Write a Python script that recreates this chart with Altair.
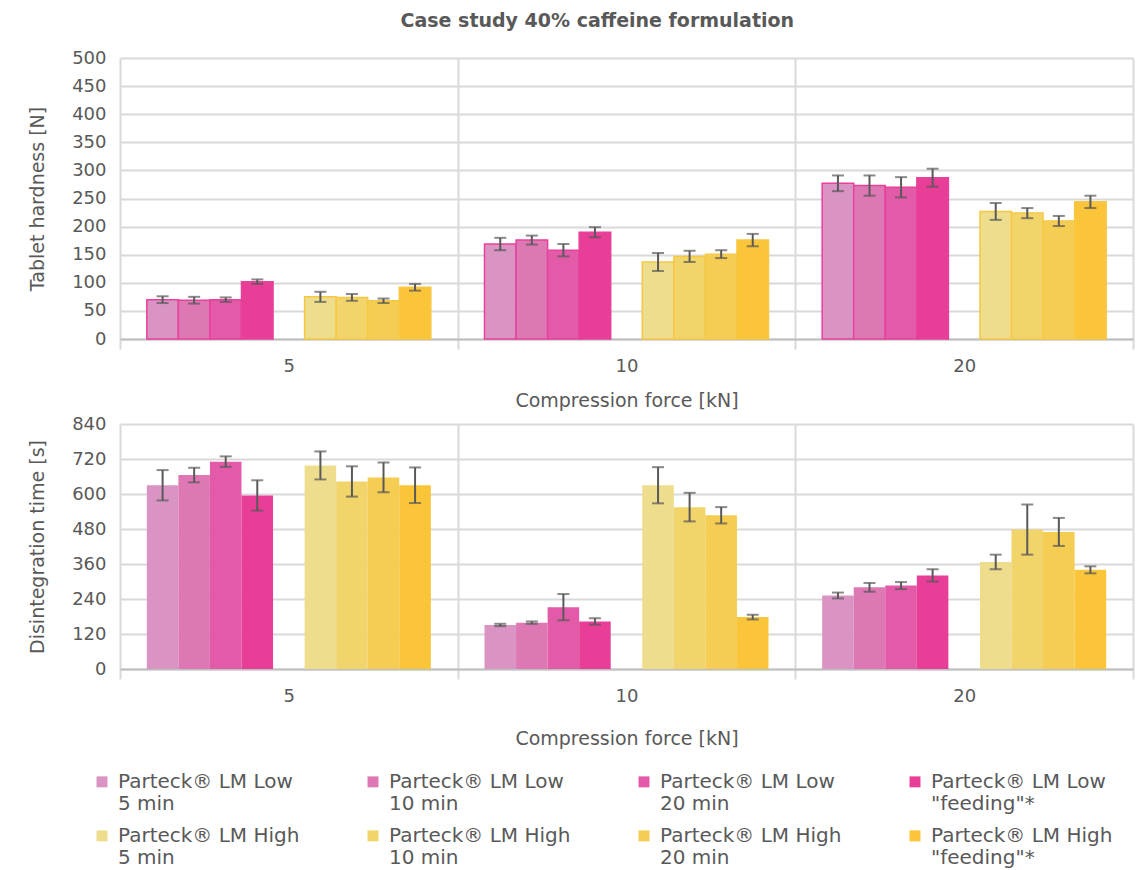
import altair as alt
import pandas as pd

forces = ["5", "10", "20"]
keys = ["L5", "L10", "L20", "LF", "H5", "H10", "H20", "HF"]
groups = ["Low", "Low", "Low", "Low", "High", "High", "High", "High"]
labels = [
    "Parteck® LM Low|5 min",
    "Parteck® LM Low|10 min",
    "Parteck® LM Low|20 min",
    'Parteck® LM Low|"feeding"*',
    "Parteck® LM High|5 min",
    "Parteck® LM High|10 min",
    "Parteck® LM High|20 min",
    'Parteck® LM High|"feeding"*',
]
colors = ["#D994C4", "#DE78B5", "#E25AA8", "#E83E98",
          "#EEDD8C", "#F1D46A", "#F5CD52", "#FBC53A"]
offset_domain = ["L5", "L10", "L20", "LF", "gap", "H5", "H10", "H20", "HF"]

# Tablet hardness [N]
hard_mean = {
    "5": [70, 69, 70, 102, 75, 74, 68, 92],
    "10": [169, 176, 158, 190, 137, 147, 151, 176],
    "20": [277, 273, 270, 287, 227, 224, 210, 244],
}
hard_err = {
    "5": [6, 6, 4, 4, 9, 6, 4, 6],
    "10": [11, 8, 11, 9, 16, 10, 7, 11],
    "20": [14, 18, 18, 16, 15, 9, 9, 11],
}
# Disintegration time [s]
dis_mean = {
    "5": [630, 665, 711, 595, 698, 643, 657, 630],
    "10": [151, 159, 212, 163, 630, 555, 527, 178],
    "20": [252, 280, 286, 321, 367, 478, 470, 340],
}
dis_err = {
    "5": [52, 25, 18, 52, 48, 52, 51, 61],
    "10": [4, 4, 45, 11, 62, 49, 28, 8],
    "20": [10, 15, 12, 21, 25, 86, 48, 12],
}


def make_df(means, errs):
    rows = []
    for f in forces:
        for i, k in enumerate(keys):
            m = means[f][i]
            e = errs[f][i]
            rows.append({"force": f, "key": k, "label": labels[i], "group": groups[i],
                         "mean": m, "lo": m - e, "hi": m + e})
    return pd.DataFrame(rows)


FONT = "DejaVu Sans"
TXT = "#595959"
GRID = "#D9D9D9"

color_enc = alt.Color(
    "label:N",
    scale=alt.Scale(domain=labels, range=colors),
    legend=alt.Legend(
        title=None, orient="none", legendX=-28, legendY=704, columns=4,
        direction="horizontal",
        symbolType="M-1,0.8L1,0.8L1,2.8L-1,2.8Z", symbolSize=120, symbolStrokeWidth=0,
        labelFontSize=20, labelFont=FONT, labelColor=TXT, labelLimit=400,
        labelExpr="split(datum.label, '|')", labelBaseline="top", labelOffset=6,
        columnPadding=63, rowPadding=2, labelOverlap=False,
    ),
)


def panel(df, ytitle, ymax, ystep, height, stroke, lab_pad, title_pad):
    xenc = alt.X(
        "force:N", sort=forces,
        scale=alt.Scale(paddingInner=0, paddingOuter=0),
        axis=alt.Axis(
            title="Compression force [kN]", tickBand="extent", grid=True,
            gridColor=GRID, gridWidth=2, ticks=True, tickSize=10, tickColor=GRID,
            tickWidth=2, labelAngle=0, domainColor="#BFBFBF", domainWidth=2,
            labelFontSize=18, labelFont=FONT, labelColor=TXT, labelPadding=lab_pad,
            titleFontSize=19, titleFont=FONT, titleColor=TXT, titleFontWeight="normal",
            titlePadding=title_pad,
        ),
    )
    xoff = alt.XOffset("key:N", scale=alt.Scale(domain=offset_domain, paddingInner=0,
                                                paddingOuter=0.85))
    yaxis = alt.Axis(
        title=ytitle, values=list(range(0, ymax + 1, ystep)), grid=True,
        gridColor=GRID, gridWidth=2, domain=False, ticks=False, labelOverlap=False,
        labelFontSize=18, labelFont=FONT, labelColor=TXT, labelPadding=14,
        titleFontSize=19, titleFont=FONT, titleColor=TXT, titleFontWeight="normal",
        titlePadding=24,
    )
    yscale = alt.Scale(domain=[0, ymax], nice=False)

    def Y(field):
        return alt.Y(field, type="quantitative", scale=yscale, axis=yaxis)

    base = alt.Chart(df).encode(x=xenc, xOffset=xoff)
    if stroke:
        bars = base.mark_bar(strokeWidth=1.5).encode(
            y=Y("mean"),
            color=color_enc,
            stroke=alt.Stroke("group:N", scale=alt.Scale(domain=["Low", "High"],
                                                         range=["#E8409B", "#F6C845"]),
                              legend=None),
        )
    else:
        bars = base.mark_bar().encode(y=Y("mean"), color=color_enc)
    rules = base.mark_rule(color=TXT, strokeWidth=2).encode(y=Y("lo"), y2="hi:Q")
    cap_lo = base.mark_tick(color=TXT, thickness=2, size=12, orient="horizontal").encode(y=Y("lo"))
    cap_hi = base.mark_tick(color=TXT, thickness=2, size=12, orient="horizontal").encode(y=Y("hi"))
    return alt.layer(bars, rules, cap_lo, cap_hi).properties(width=1013, height=height)


top = panel(make_df(hard_mean, hard_err), "Tablet hardness [N]", 500, 50, 281, True, 8, 16)
bottom = panel(make_df(dis_mean, dis_err), "Disintegration time [s]", 840, 120, 245, False, 8, 24)

chart = alt.vconcat(top, bottom, spacing=5).properties(
    title=alt.TitleParams("Case study 40% caffeine formulation", fontSize=19,
                          fontWeight="bold", color=TXT, font=FONT, anchor="middle",
                          offset=18, dx=16),
    padding={"left": 20, "top": 4, "right": 2, "bottom": 0},
).configure_view(stroke=None).resolve_scale(color="shared")

chart.save("out.html", embed_options={"renderer": "svg", "actions": False})
